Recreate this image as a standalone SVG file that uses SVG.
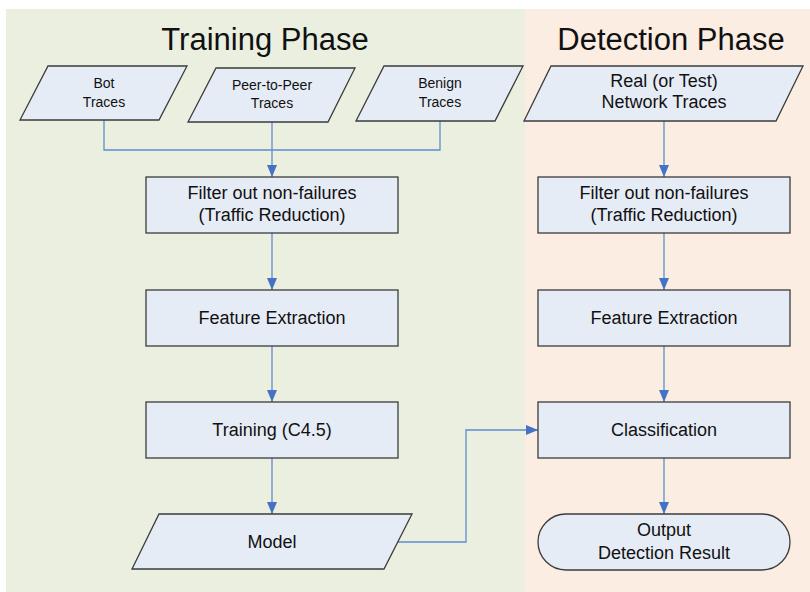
<svg xmlns="http://www.w3.org/2000/svg" width="810" height="592" viewBox="0 0 810 592">
<style>
.shape{fill:#E6ECF6;stroke:#3b3b3b;stroke-width:1.3}
.t{font-family:"Liberation Sans",Arial,sans-serif;fill:#111;text-anchor:middle}
.big{font-size:18px}
.small{font-size:14px}
.title{font-size:31px}
.conn{fill:none;stroke:#5F8DD0;stroke-width:1.3}
</style>
<defs>
<marker id="arr" markerUnits="userSpaceOnUse" markerWidth="12" markerHeight="12" viewBox="0 0 12 12" refX="12" refY="6" orient="auto">
<path d="M0,1 L12,6 L0,11 Z" fill="#4472C4"/>
</marker>
</defs>
<rect x="6" y="9" width="519" height="583" fill="#EBEFDF"/>
<rect x="525" y="9" width="285" height="583" fill="#FCEDE3"/>
<text class="t title" x="265" y="50">Training Phase</text>
<text class="t title" x="671" y="50">Detection Phase</text>

<g id="connectors">
<path class="conn" d="M104,120 V150 H440 V121"/>
<path class="conn" d="M272,122 V177" marker-end="url(#arr)"/>
<path class="conn" d="M272,233 V290" marker-end="url(#arr)"/>
<path class="conn" d="M272,346 V402" marker-end="url(#arr)"/>
<path class="conn" d="M272,458 V514" marker-end="url(#arr)"/>
<path class="conn" d="M398,542 H466 V430 H538" marker-end="url(#arr)"/>
<path class="conn" d="M664,121 V177" marker-end="url(#arr)"/>
<path class="conn" d="M664,233 V290" marker-end="url(#arr)"/>
<path class="conn" d="M664,346 V402" marker-end="url(#arr)"/>
<path class="conn" d="M664,458 V514" marker-end="url(#arr)"/>
</g>

<g id="bot">
<polygon class="shape" points="48,66 187,66 159,120 20,120"/>
<text class="t small" x="104" y="88">Bot</text>
<text class="t small" x="104" y="107">Traces</text>
</g>
<g id="p2p">
<polygon class="shape" points="216,68 355,68 328,122 188,122"/>
<text class="t small" x="272" y="90">Peer-to-Peer</text>
<text class="t small" x="272" y="108">Traces</text>
</g>
<g id="benign">
<polygon class="shape" points="384,66 523,66 495,121 356,121"/>
<text class="t small" x="440" y="88">Benign</text>
<text class="t small" x="440" y="107">Traces</text>
</g>
<g id="filter-train">
<rect class="shape" x="146" y="177" width="252" height="56"/>
<text class="t big" x="272" y="199">Filter out non-failures</text>
<text class="t big" x="272" y="221">(Traffic Reduction)</text>
</g>
<g id="feature-train">
<rect class="shape" x="146" y="290" width="252" height="56"/>
<text class="t big" x="272" y="324">Feature Extraction</text>
</g>
<g id="training">
<rect class="shape" x="146" y="402" width="252" height="56"/>
<text class="t big" x="272" y="436">Training (C4.5)</text>
</g>
<g id="model">
<polygon class="shape" points="159,514 412,514 384,569 132,569"/>
<text class="t big" x="272" y="548">Model</text>
</g>

<g id="real">
<polygon class="shape" points="551,66 803,66 776,121 524,121"/>
<text class="t big" x="664" y="87">Real (or Test)</text>
<text class="t big" x="664" y="108">Network Traces</text>
</g>
<g id="filter-detect">
<rect class="shape" x="538" y="177" width="252" height="56"/>
<text class="t big" x="664" y="199">Filter out non-failures</text>
<text class="t big" x="664" y="221">(Traffic Reduction)</text>
</g>
<g id="feature-detect">
<rect class="shape" x="538" y="290" width="252" height="56"/>
<text class="t big" x="664" y="324">Feature Extraction</text>
</g>
<g id="classification">
<rect class="shape" x="538" y="402" width="252" height="56"/>
<text class="t big" x="664" y="436">Classification</text>
</g>
<g id="output">
<rect class="shape" x="538" y="514" width="252" height="56" rx="28" ry="28"/>
<text class="t big" x="664" y="536">Output</text>
<text class="t big" x="664" y="559">Detection Result</text>
</g>
</svg>
